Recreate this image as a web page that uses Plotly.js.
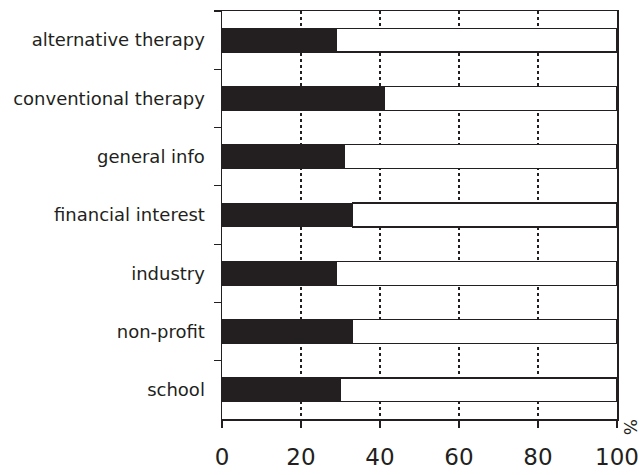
<!DOCTYPE html>
<html><head><meta charset="utf-8">
<script src="https://cdn.plot.ly/plotly-3.0.1.min.js"></script>
<style>html,body{margin:0;padding:0;background:#fff}#chart{width:639px;height:475px}</style>
</head><body><div id="chart"></div>
<script>
const categories = ["alternative therapy","conventional therapy","general info","financial interest","industry","non-profit","school"];
const blackValues = [29, 41, 31, 33, 29, 33, 30];
const whiteValues = [71, 59, 69, 67, 71, 67, 70];
const xTicks = [0, 20, 40, 60, 80, 100];

const FONT = "DejaVu Sans, sans-serif";
const traces = [
  {type:'bar', orientation:'h', y:categories, x:blackValues, width:0.41,
   marker:{color:'#231f20', line:{color:'#231f20', width:1}}, hoverinfo:'none'},
  {type:'bar', orientation:'h', y:categories, x:whiteValues, width:0.41,
   marker:{color:'#ffffff', line:{color:'#231f20', width:1.2}}, hoverinfo:'none'}
];
const layout = {
  width:639, height:475, barmode:'stack', showlegend:false,
  paper_bgcolor:'#fff', plot_bgcolor:'#fff',
  margin:{l:222, r:22, t:11, b:56},
  font:{family:FONT, color:'#231f20'},
  xaxis:{range:[0,100], tickvals:xTicks, ticks:'outside', ticklen:7, tickwidth:1.2, tickcolor:'#231f20',
    showline:true, linecolor:'#231f20', linewidth:1.5, mirror:true,
    showgrid:true, gridcolor:'#231f20', griddash:'dot', gridwidth:1.2, zeroline:false,
    tickfont:{size:23, family:FONT, color:'#231f20'}, ticklabelstandoff:10, fixedrange:true},
  yaxis:{type:'category', categoryorder:'array', categoryarray:categories, range:[6.5,-0.5],
    tickson:'boundaries', ticks:'outside', ticklen:7, tickwidth:1.2, tickcolor:'#231f20',
    showline:true, linecolor:'#231f20', linewidth:1.5, mirror:true, showgrid:false, zeroline:false,
    tickfont:{size:18, family:FONT, color:'#231f20'}, ticklabelstandoff:12, fixedrange:true},
  annotations:[{text:'%', xref:'paper', yref:'paper', x:1, y:0, xanchor:'left', yanchor:'top',
    xshift:1, yshift:2, showarrow:false, textangle:90, font:{size:17, family:FONT, color:'#231f20'}}]
};
Plotly.newPlot('chart', traces, layout, {displayModeBar:false, staticPlot:true});
</script></body></html>
